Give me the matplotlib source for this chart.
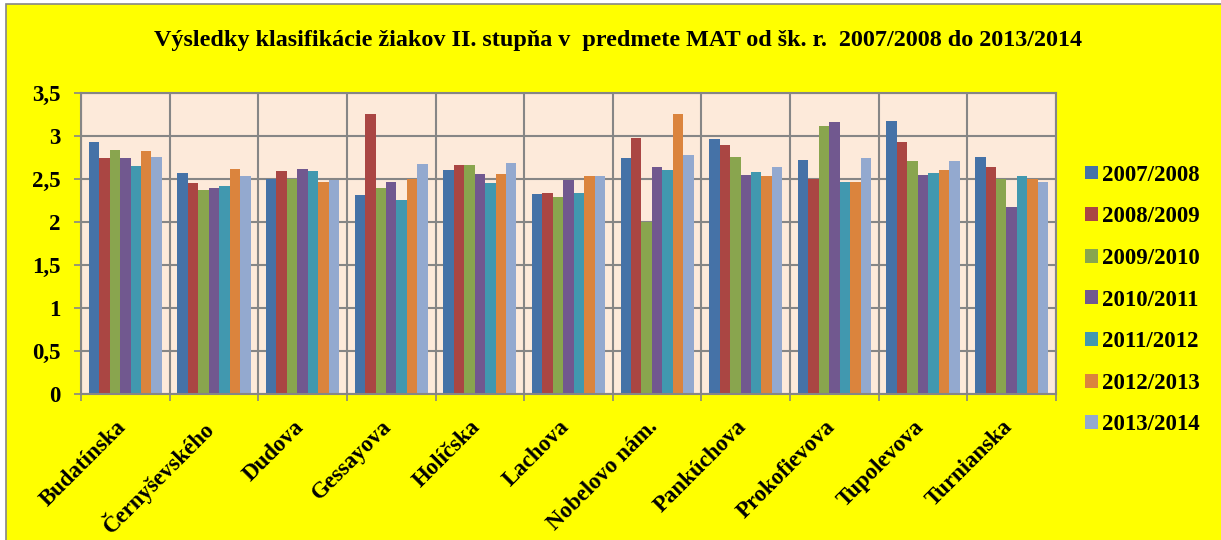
import matplotlib.pyplot as plt
import matplotlib.transforms as mtransforms
import numpy as np
from matplotlib.patches import Rectangle
from matplotlib.ticker import FuncFormatter

plt.rcParams['font.family'] = ['Liberation Serif', 'DejaVu Serif']
plt.rcParams['font.weight'] = 'bold'

schools = ["Budatínska", "Černyševského", "Dudova", "Gessayova", "Holíčska", "Lachova",
           "Nobelovo nám.", "Pankúchova", "Prokofievova", "Tupolevova", "Turnianska"]
years = ["2007/2008", "2008/2009", "2009/2010", "2010/2011", "2011/2012", "2012/2013", "2013/2014"]

y0708 = [2.93, 2.57, 2.50, 2.31, 2.61, 2.33, 2.74, 2.96, 2.72, 3.18, 2.75]
y0809 = [2.74, 2.45, 2.59, 3.25, 2.66, 2.34, 2.98, 2.90, 2.50, 2.93, 2.64]
y0910 = [2.84, 2.37, 2.50, 2.40, 2.66, 2.29, 2.00, 2.76, 3.12, 2.71, 2.50]
y1011 = [2.74, 2.39, 2.62, 2.47, 2.56, 2.49, 2.64, 2.55, 3.16, 2.55, 2.17]
y1112 = [2.65, 2.42, 2.59, 2.26, 2.45, 2.34, 2.60, 2.58, 2.47, 2.57, 2.53]
y1213 = [2.83, 2.62, 2.47, 2.50, 2.56, 2.53, 3.25, 2.53, 2.46, 2.60, 2.50]
y1314 = [2.76, 2.53, 2.49, 2.68, 2.69, 2.54, 2.78, 2.64, 2.74, 2.71, 2.47]
series = [y0708, y0809, y0910, y1011, y1112, y1213, y1314]

colors = ["#4572A7", "#AA4643", "#89A54E", "#71588F", "#4198AF", "#DB843D", "#93A9CF"]
grid_col = "#868686"

fig = plt.figure(figsize=(12.21, 5.4), dpi=100)
fig.patch.set_facecolor("white")
# yellow chart area with grey frame (frame runs off the right/bottom edge)
fig.add_artist(Rectangle((6 / 1221, -0.02), 1.0, 1 - 4 / 540 + 0.02, transform=fig.transFigure,
                         facecolor="#FFFF00", edgecolor=grid_col, lw=1.2, zorder=-10))

ax = fig.add_axes([81 / 1221, 146 / 540, 975 / 1221, 301 / 540])
ax.set_facecolor("#FDEADA")

x = np.arange(len(schools))
width = 0.118
for i, (vals, year) in enumerate(zip(series, years)):
    ax.bar(x + (i - 3) * width, vals, width, color=colors[i], label=year, zorder=2)

ax.set_xlim(-0.5, len(schools) - 0.5)
ax.set_ylim(0, 3.5)
ax.set_yticks(np.arange(0, 3.51, 0.5))
ax.yaxis.set_major_formatter(FuncFormatter(lambda v, p: f"{v:g}".replace(".", ",")))

ax.set_xticks(np.arange(-0.5, len(schools), 1))
ax.set_xticklabels([])
ax.set_xticks(x, schools, minor=True, rotation=45, ha="right")
ax.tick_params(axis="x", which="minor", length=0, pad=16, labelsize=16.5)
ax.tick_params(axis="x", which="major", length=5, width=1.2, color=grid_col)
ax.tick_params(axis="y", length=5, width=1.2, color=grid_col, pad=10, labelsize=16.5)

# nudge category labels a little to the right, like Excel does
shift = mtransforms.ScaledTranslation(5 / 100, 0, fig.dpi_scale_trans)
for lab in ax.get_xticklabels(minor=True):
    lab.set_transform(lab.get_transform() + shift)

ax.grid(True, color=grid_col, lw=1.5, zorder=0)
ax.set_axisbelow(True)
for s in ax.spines.values():
    s.set_color(grid_col)
    s.set_linewidth(1.5)

fig.text(0.506, 0.925, "Výsledky klasifikácie žiakov II. stupňa v  predmete MAT od šk. r.  2007/2008 do 2013/2014",
         ha="center", va="center", fontsize=17.4, fontweight="bold")

fig.legend(loc="center left", bbox_to_anchor=(1085 / 1221, 1 - 300 / 540), frameon=False,
           fontsize=16.5, handlelength=0.55, handleheight=0.55, handletextpad=0.2,
           labelspacing=0.9, borderpad=0, borderaxespad=0)

plt.savefig("out.png", dpi=100)
